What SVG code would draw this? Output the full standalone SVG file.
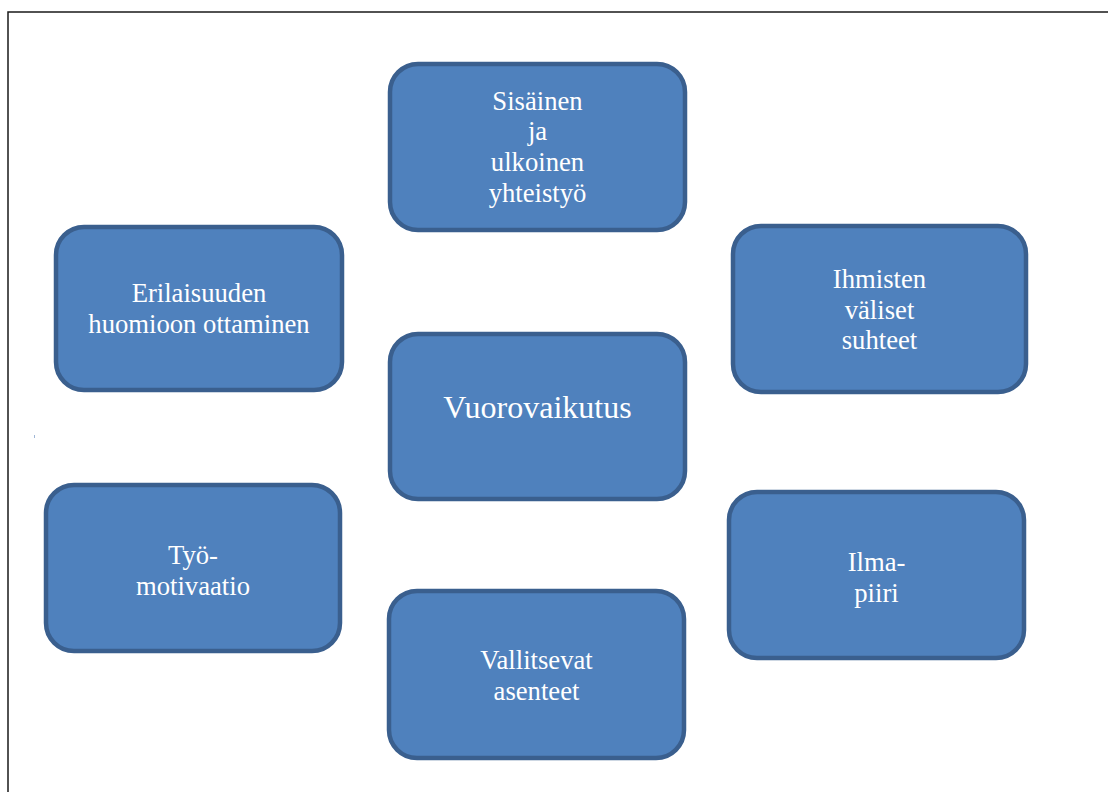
<svg xmlns="http://www.w3.org/2000/svg" width="1108" height="792" viewBox="0 0 1108 792">
<style>
.box{fill:#4F81BD;stroke:#3A5F8E;stroke-width:4.5}
.t{font-family:"Liberation Serif","Times New Roman",serif;font-size:26.67px;fill:#FFFFFF;text-anchor:middle}
.big{font-size:32px}
</style>
<rect x="0" y="0" width="1108" height="792" fill="#FFFFFF"/>
<rect x="8" y="12" width="1120" height="800" fill="none" stroke="#1a1a1a" stroke-width="1.5"/>
<rect x="34" y="435" width="1" height="3" fill="#9fb6d6"/>
<g id="connectors"></g>
<g id="node-yhteistyo">
<rect class="box" x="390" y="64" width="295" height="166" rx="28"/>
<text class="t" x="537.5" y="109.5">Sisäinen</text>
<text class="t" x="537.5" y="140.2">ja</text>
<text class="t" x="537.5" y="170.8">ulkoinen</text>
<text class="t" x="537.5" y="201.5">yhteistyö</text>
</g>
<g id="node-erilaisuus">
<rect class="box" x="56" y="227" width="286" height="163" rx="28"/>
<text class="t" x="199" y="301.7">Erilaisuuden</text>
<text class="t" x="199" y="332.5">huomioon ottaminen</text>
</g>
<g id="node-ihmiset">
<rect class="box" x="733" y="226" width="293" height="166" rx="28"/>
<text class="t" x="879.5" y="288.3">Ihmisten</text>
<text class="t" x="879.5" y="318.8">väliset</text>
<text class="t" x="879.5" y="349.3">suhteet</text>
</g>
<g id="node-vuorovaikutus">
<rect class="box" x="390" y="334" width="295" height="165" rx="28"/>
<text class="t big" x="537.5" y="418">Vuorovaikutus</text>
</g>
<g id="node-tyomotivaatio">
<rect class="box" x="46" y="485" width="294" height="166" rx="28"/>
<text class="t" x="193" y="564.3">Työ-</text>
<text class="t" x="193" y="594.6">motivaatio</text>
</g>
<g id="node-ilmapiiri">
<rect class="box" x="729" y="492" width="295" height="166" rx="28"/>
<text class="t" x="876.5" y="571.3">Ilma-</text>
<text class="t" x="876.5" y="601.6">piiri</text>
</g>
<g id="node-asenteet">
<rect class="box" x="389" y="591" width="295" height="167" rx="28"/>
<text class="t" x="536.5" y="669.3">Vallitsevat</text>
<text class="t" x="536.5" y="699.6">asenteet</text>
</g>
</svg>
